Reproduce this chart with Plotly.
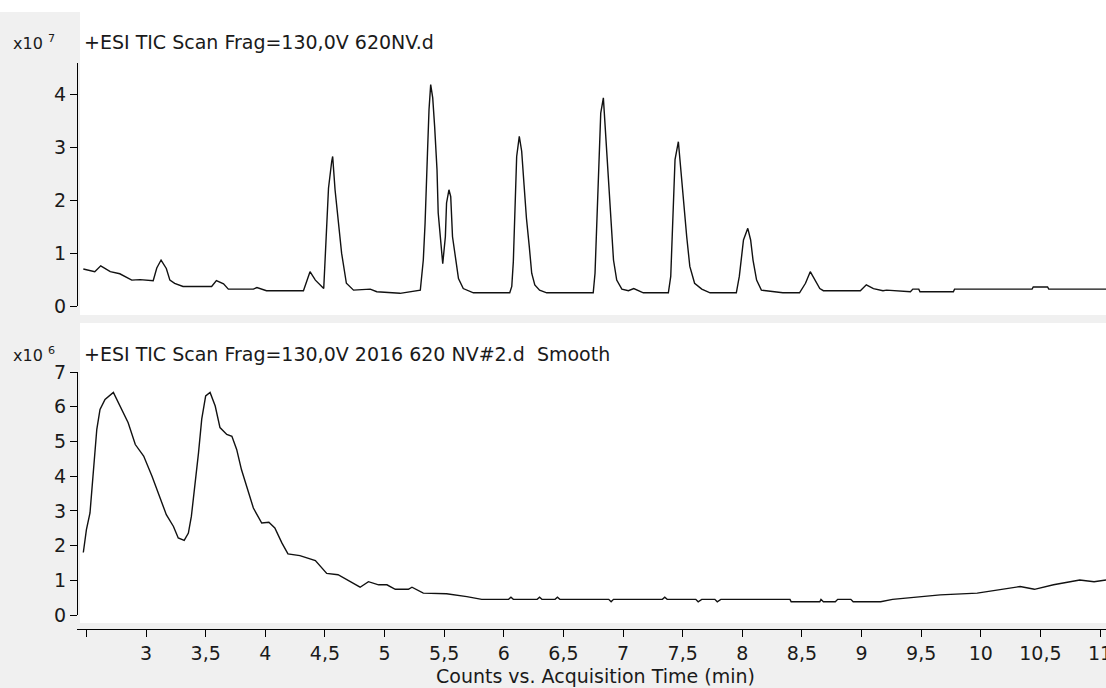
import plotly.graph_objects as go

# ---------------- data ----------------
# top trace: +ESI TIC Scan Frag=130,0V 620NV.d   (counts x10^7)
top_time = [
    2.474, 2.57, 2.62, 2.70, 2.78, 2.88, 2.95, 3.06, 3.09, 3.126, 3.17, 3.20,
    3.24, 3.31, 3.55, 3.59, 3.65, 3.69, 3.90, 3.93, 4.01, 4.12, 4.32,
    4.375, 4.42, 4.49, 4.515, 4.53, 4.557, 4.565, 4.585, 4.61, 4.64, 4.68,
    4.74, 4.88, 4.935, 5.13, 5.30,
    5.325, 5.34, 5.36, 5.373, 5.387, 5.404, 5.42, 5.44, 5.45, 5.47, 5.488,
    5.51, 5.52, 5.54, 5.555, 5.57, 5.59, 5.62, 5.66, 5.745,
    6.05, 6.067, 6.08, 6.094, 6.108, 6.13, 6.15, 6.17, 6.19, 6.214, 6.234,
    6.26, 6.30, 6.36,
    6.75, 6.765, 6.78, 6.80, 6.813, 6.835, 6.855, 6.877, 6.90, 6.92, 6.947,
    6.99, 7.045, 7.09, 7.17,
    7.38, 7.40, 7.417, 7.436, 7.464, 7.486, 7.51, 7.534, 7.56, 7.60, 7.66, 7.73,
    7.95, 7.975, 8.01, 8.046, 8.07, 8.09, 8.12, 8.16, 8.20, 8.34,
    8.48, 8.53, 8.57, 8.61, 8.65, 8.68, 8.99, 9.04, 9.10, 9.18, 9.21, 9.41,
    9.43, 9.48, 9.49, 9.77, 9.78, 10.43, 10.44, 10.56, 10.57, 11.05,
]
top_counts = [
    0.70, 0.65, 0.76, 0.65, 0.61, 0.49, 0.50, 0.48, 0.72, 0.87, 0.71, 0.49,
    0.43, 0.37, 0.37, 0.48, 0.42, 0.32, 0.32, 0.35, 0.29, 0.29, 0.29,
    0.65, 0.49, 0.33, 1.38, 2.23, 2.74, 2.83, 2.20, 1.63, 1.00, 0.43,
    0.30, 0.32, 0.27, 0.24, 0.30,
    0.87, 1.57, 2.89, 3.72, 4.19, 3.94, 3.40, 2.58, 1.76, 1.22, 0.80,
    1.31, 1.95, 2.20, 2.07, 1.31, 1.00, 0.52, 0.33, 0.25,
    0.25, 0.37, 0.84, 1.82, 2.83, 3.21, 2.93, 2.29, 1.66, 1.12, 0.62,
    0.40, 0.30, 0.25,
    0.25, 0.62, 1.47, 2.70, 3.65, 3.94, 3.18, 2.39, 1.63, 0.87, 0.49,
    0.32, 0.29, 0.33, 0.25,
    0.25, 0.56, 1.63, 2.77, 3.11, 2.51, 1.88, 1.31, 0.75, 0.43, 0.32, 0.25,
    0.25, 0.56, 1.25, 1.47, 1.25, 0.87, 0.49, 0.30, 0.29, 0.25,
    0.25, 0.43, 0.65, 0.49, 0.33, 0.29, 0.29, 0.40, 0.33, 0.29, 0.30, 0.27,
    0.32, 0.32, 0.27, 0.27, 0.32, 0.32, 0.36, 0.36, 0.32, 0.32,
]

# bottom trace: +ESI TIC Scan Frag=130,0V 2016 620 NV#2.d Smooth (counts x10^6)
bottom_time = [
    2.474, 2.50, 2.53, 2.558, 2.587, 2.614, 2.656, 2.726, 2.78, 2.85,
    2.91, 2.98, 3.05, 3.12, 3.17, 3.23, 3.27, 3.32, 3.355, 3.38,
    3.41, 3.44, 3.467, 3.50, 3.537, 3.58, 3.62, 3.677, 3.72, 3.76,
    3.80, 3.845, 3.90, 3.97, 4.03, 4.08, 4.14, 4.19, 4.29, 4.42,
    4.515, 4.61, 4.71, 4.795, 4.865, 4.95, 5.02, 5.09, 5.20, 5.23,
    5.325, 5.52, 5.69, 5.815, 6.04, 6.06, 6.08, 6.28, 6.30, 6.32,
    6.43, 6.45, 6.47, 6.88, 6.90, 6.92, 7.33, 7.35, 7.37, 7.61,
    7.63, 7.66, 7.77, 7.79, 7.82, 8.40, 8.41, 8.65, 8.66, 8.68,
    8.78, 8.80, 8.91, 8.93, 9.11, 9.16, 9.26, 9.66, 9.97, 10.16,
    10.33, 10.45, 10.61, 10.83, 10.95, 11.05,
]
bottom_counts = [
    1.80, 2.46, 2.94, 4.19, 5.35, 5.92, 6.21, 6.41, 6.02, 5.54,
    4.91, 4.58, 4.00, 3.37, 2.89, 2.55, 2.22, 2.15, 2.36, 2.84,
    3.71, 4.67, 5.64, 6.31, 6.41, 6.02, 5.40, 5.20, 5.15, 4.77,
    4.19, 3.66, 3.08, 2.65, 2.67, 2.51, 2.07, 1.76, 1.71, 1.57,
    1.20, 1.16, 0.96, 0.80, 0.96, 0.87, 0.87, 0.74, 0.74, 0.80,
    0.63, 0.61, 0.53, 0.45, 0.45, 0.51, 0.45, 0.45, 0.51, 0.45,
    0.45, 0.51, 0.45, 0.45, 0.38, 0.45, 0.45, 0.51, 0.45, 0.45,
    0.38, 0.45, 0.45, 0.38, 0.45, 0.45, 0.38, 0.38, 0.45, 0.38,
    0.38, 0.45, 0.45, 0.38, 0.38, 0.38, 0.45, 0.58, 0.63, 0.72,
    0.82, 0.74, 0.87, 1.01, 0.96, 1.01,
]

x_tickvals = [2.5, 3, 3.5, 4, 4.5, 5, 5.5, 6, 6.5, 7, 7.5, 8, 8.5, 9, 9.5, 10, 10.5, 11]
x_ticktext = ["", "3", "3,5", "4", "4,5", "5", "5,5", "6", "6,5", "7", "7,5",
              "8", "8,5", "9", "9,5", "10", "10,5", "11"]
top_ticks = [0, 1, 2, 3, 4]
bottom_ticks = [0, 1, 2, 3, 4, 5, 6, 7]

top_title = "+ESI TIC Scan Frag=130,0V 620NV.d"
bottom_title = "+ESI TIC Scan Frag=130,0V 2016 620 NV#2.d \u00a0Smooth"
x_title = "Counts vs. Acquisition Time (min)"

# ---------------- layout helpers (pixel -> paper) ----------------
W, H = 1106, 688
def px(x):
    return x / W
def py(y):
    return 1 - y / H

FONT = "DejaVu Sans, Verdana, sans-serif"
FS = 19
INK = "#1a1a1a"

fig = go.Figure()
fig.add_trace(go.Scatter(x=top_time, y=top_counts, mode="lines",
                         line=dict(color="#111111", width=1.4),
                         xaxis="x", yaxis="y", showlegend=False))
fig.add_trace(go.Scatter(x=bottom_time, y=bottom_counts, mode="lines",
                         line=dict(color="#111111", width=1.4),
                         xaxis="x2", yaxis="y2", showlegend=False))

x_dom = [px(77), 1.0]
x_range = [2.421, 11.05]

common_y = dict(showgrid=False, zeroline=False, showline=True, linecolor="black",
                linewidth=1, ticks="outside", ticklen=7, tickwidth=1,
                tickcolor="black", automargin=False, anchor="free",
                position=px(77), fixedrange=True,
                tickfont=dict(family=FONT, size=FS, color=INK))

fig.update_layout(
    width=W, height=H,
    margin=dict(l=0, r=0, t=0, b=0),
    paper_bgcolor="#f0f0f0",
    plot_bgcolor="rgba(0,0,0,0)",
    showlegend=False,
    xaxis=dict(domain=x_dom, range=x_range, anchor="y", matches="x2",
               showgrid=False, zeroline=False, showline=False,
               showticklabels=False, ticks="", automargin=False),
    xaxis2=dict(domain=x_dom, range=x_range, anchor="free", position=py(629),
                showgrid=False, zeroline=False, showline=True, linecolor="black",
                linewidth=1, ticks="outside", ticklen=7, tickwidth=1,
                tickcolor="black", tickvals=x_tickvals, ticktext=x_ticktext,
                tickfont=dict(family=FONT, size=FS, color=INK),
                ticklabeloverflow="allow", automargin=False),
    yaxis=dict(domain=[py(306), py(63)], range=[0, 4.6],
               tickvals=top_ticks, ticktext=[str(v) for v in top_ticks],
               **common_y),
    yaxis2=dict(domain=[py(615), py(372)], range=[0, 7.0],
                tickvals=bottom_ticks, ticktext=[str(v) for v in bottom_ticks],
                **common_y),
    shapes=[
        dict(type="rect", xref="paper", yref="paper", x0=0, x1=1,
             y0=py(12), y1=1, fillcolor="white", line_width=0, layer="below"),
        dict(type="rect", xref="paper", yref="paper", x0=px(80), x1=1,
             y0=py(315), y1=py(12), fillcolor="white", line_width=0, layer="below"),
        dict(type="rect", xref="paper", yref="paper", x0=px(80), x1=1,
             y0=py(623), y1=py(323), fillcolor="white", line_width=0, layer="below"),
    ],
    annotations=[
        dict(text="x10 <sup>7</sup>", xref="paper", yref="paper", x=px(11), y=py(42),
             xanchor="left", yanchor="middle", showarrow=False,
             font=dict(family=FONT, size=16, color=INK)),
        dict(text=top_title, xref="paper", yref="paper", x=px(82), y=py(42),
             xanchor="left", yanchor="middle", showarrow=False,
             font=dict(family=FONT, size=FS, color=INK)),
        dict(text="x10 <sup>6</sup>", xref="paper", yref="paper", x=px(11), y=py(354),
             xanchor="left", yanchor="middle", showarrow=False,
             font=dict(family=FONT, size=16, color=INK)),
        dict(text=bottom_title, xref="paper", yref="paper", x=px(82), y=py(354),
             xanchor="left", yanchor="middle", showarrow=False,
             font=dict(family=FONT, size=FS, color=INK)),
        dict(text=x_title, xref="paper", yref="paper", x=px(595), y=py(676),
             xanchor="center", yanchor="middle", showarrow=False,
             font=dict(family=FONT, size=FS, color=INK)),
    ],
)

fig.write_html("out.html", config={"displayModeBar": False})

# remove the browser's default page margin so the figure sits at (0, 0)
with open("out.html", "r", encoding="utf-8") as f:
    html = f.read()
html = html.replace("<head>", "<head><style>html,body{margin:0;padding:0;overflow:hidden;}</style>", 1)
with open("out.html", "w", encoding="utf-8") as f:
    f.write(html)
